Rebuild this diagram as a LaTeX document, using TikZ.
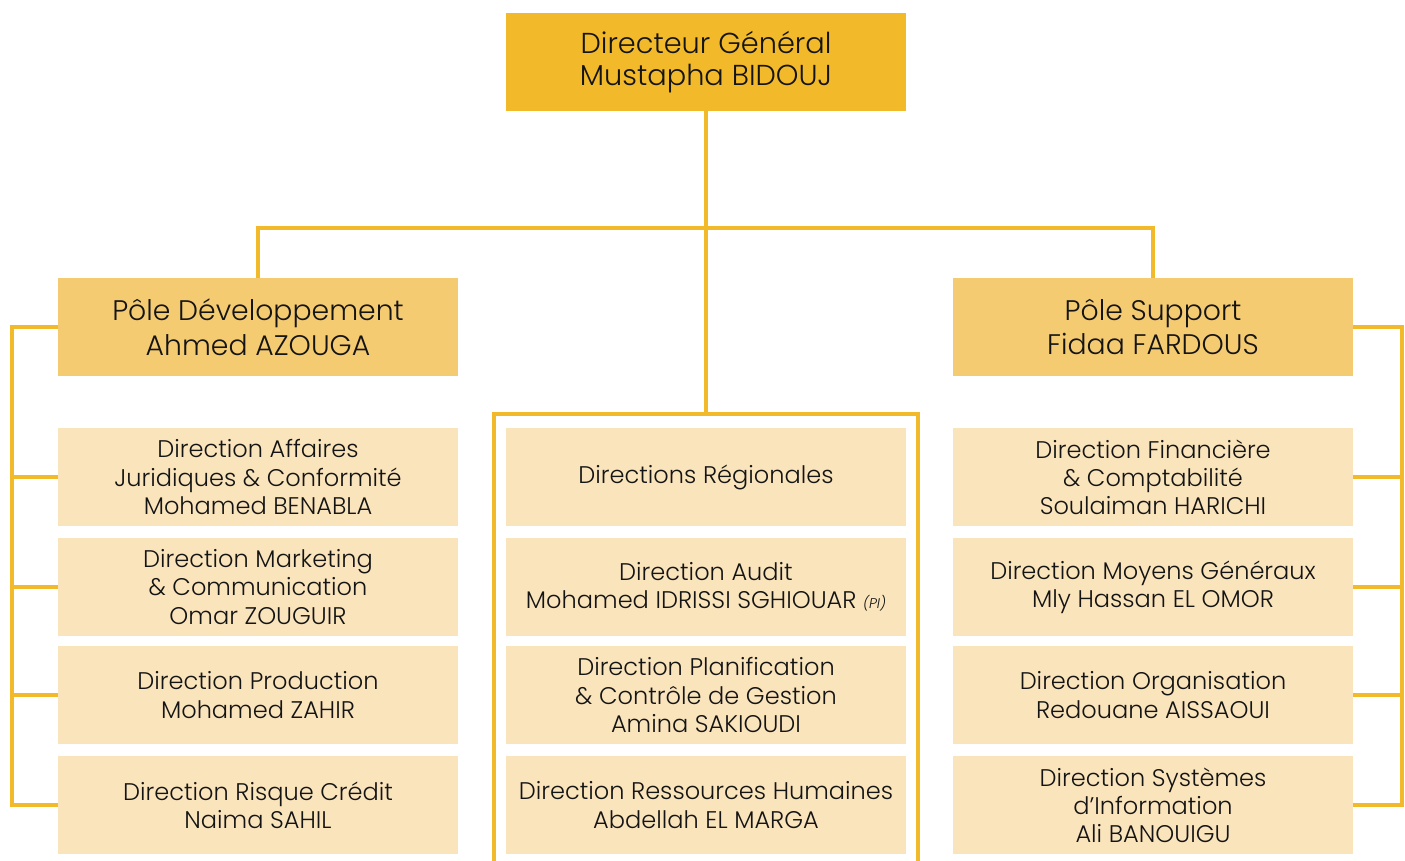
\documentclass[tikz,border=0pt]{standalone}
\usepackage{fontspec}
\setmainfont{Poppins}[UprightFont=* Light,ItalicFont=* Light Italic]
\usetikzlibrary{positioning,calc}
\definecolor{gold}{RGB}{242,185,43}
\definecolor{sand}{RGB}{245,203,114}
\definecolor{cream}{RGB}{250,228,188}
\definecolor{ink}{RGB}{20,20,20}

\tikzset{
  unit/.style={minimum width=8cm,minimum height=1.96cm,inner sep=0pt,
    align=center,text=ink,font=\fontsize{13.7}{16}\selectfont},
  dir/.style={unit,fill=cream},
  pole/.style={unit,fill=sand,font=\fontsize{16.1}{19.8}\selectfont},
  head/.style={unit,fill=gold,font=\fontsize{16.4}{18.2}\selectfont},
  link/.style={draw=gold,line width=1.9pt},
}

\begin{document}
\begin{tikzpicture}[x=0.02cm,y=-0.02cm]
  \useasboundingbox (0,0) rectangle (1405,861);

  % top of the tree
  \node[head] (dg) at (706,62) {Directeur Général\\Mustapha BIDOUJ};
  \node[pole] (dev) at (258,327) {Pôle Développement\\Ahmed AZOUGA};
  \node[pole] (sup) at (1153,327) {Pôle Support\\Fidaa FARDOUS};

  % three columns of directions
  \foreach \t/\y [count=\i] in {{Direction Affaires\\Juridiques \& Conformité\\Mohamed BENABLA}/477,
      {Direction Marketing\\\& Communication\\Omar ZOUGUIR}/587,
      {Direction Production\\Mohamed ZAHIR}/695,
      {Direction Risque Crédit\\Naima SAHIL}/805}{
    \node[dir] (l\i) at (258,\y) {\t};
  }
  \foreach \t/\y [count=\i] in {{Directions Régionales}/477,
      {Direction Audit\\Mohamed IDRISSI SGHIOUAR {\fontsize{8}{8}\selectfont\itshape(PI)}}/587,
      {Direction Planification\\\& Contrôle de Gestion\\Amina SAKIOUDI}/695,
      {Direction Ressources Humaines\\Abdellah EL MARGA}/805}{
    \node[dir] (c\i) at (706,\y) {\t};
  }
  \foreach \t/\y [count=\i] in {{Direction Financière\\\& Comptabilité\\Soulaiman HARICHI}/477,
      {Direction Moyens Généraux\\Mly Hassan EL OMOR}/587,
      {Direction Organisation\\Redouane AISSAOUI}/695,
      {Direction Systèmes\\d’Information\\Ali BANOUIGU}/805}{
    \node[dir] (r\i) at (1153,\y) {\t};
  }

  % connectors
  \coordinate (hub) at (706,228);
  \coordinate (ctop) at (706,414);
  \coordinate (lrail) at (12,0);
  \coordinate (rrail) at (1402,0);
  \coordinate (cl) at (494,870);
  \coordinate (cr) at (918,870);

  \draw[link] (dg.south) -- (ctop);
  \draw[link] (dev.north) |- (hub) -| (sup.north);
  \draw[link] (cl) |- (ctop) -| (cr);

  \draw[link] (dev.west) -- (dev.west -| lrail) -- (l4.west -| lrail) -- (l4.west);
  \draw[link] (sup.east) -- (sup.east -| rrail) -- (r4.east -| rrail) -- (r4.east);
  \foreach \i in {1,2,3}{
    \draw[link] (l\i.west) -- (l\i.west -| lrail);
    \draw[link] (r\i.east) -- (r\i.east -| rrail);
  }
\end{tikzpicture}
\end{document}
